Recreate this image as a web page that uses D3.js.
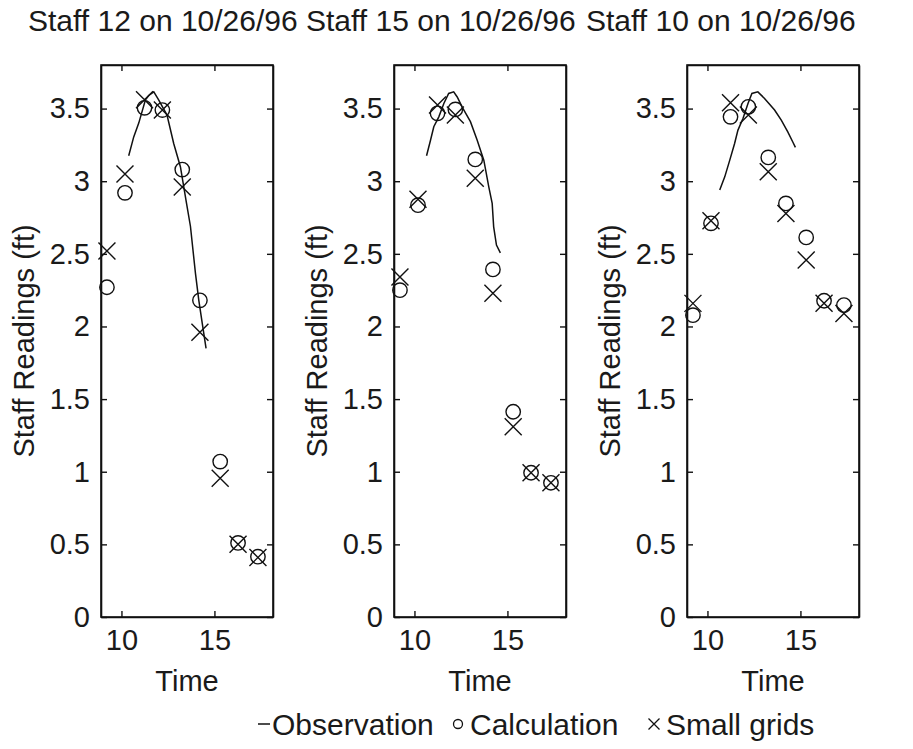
<!DOCTYPE html>
<html>
<head>
<meta charset="utf-8">
<script src="https://cdn.jsdelivr.net/npm/d3@7"></script>
<style>
  html, body { margin: 0; padding: 0; background: #fff; }
  text { font-family: "Liberation Sans", Arial, Helvetica, sans-serif; fill: #1a1a1a; }
</style>
</head>
<body>
<svg id="chart" width="913" height="749"></svg>
<script>
// ---------------- DATA ----------------
const panelTitles = ["Staff 12 on 10/26/96", "Staff 15 on 10/26/96", "Staff 10 on 10/26/96"];
const xTicks = [10, 15];
const yTicks = [0, 0.5, 1, 1.5, 2, 2.5, 3, 3.5];
const yTickLabels = ["0", "0.5", "1", "1.5", "2", "2.5", "3", "3.5"];
const xLabel = "Time";
const yLabel = "Staff Readings (ft)";
const legendLabels = ["Observation", "Calculation", "Small grids"];

// sample times (hours) shared by calculation and small-grid series
const sampleTimes = [9.22, 10.19, 11.24, 12.2, 13.27, 14.22, 15.31, 16.27, 17.34];

// Staff 12
const calc12 = [2.27, 2.92, 3.505, 3.49, 3.08, 2.18, 1.07, 0.51, 0.415];
const grid12 = [2.52, 3.05, 3.56, 3.49, 2.96, 1.96, 0.955, 0.50, 0.41];
const obsTime12 = [10.39, 10.66, 10.93, 11.29, 11.47, 11.74, 12.0, 12.45, 12.81, 13.17, 13.47, 13.71, 13.98, 14.16, 14.37, 14.55];
const obs12 = [3.175, 3.305, 3.40, 3.56, 3.59, 3.615, 3.56, 3.455, 3.26, 3.10, 2.87, 2.69, 2.365, 2.18, 2.0, 1.85];

// Staff 15
const calc15 = [2.25, 2.835, 3.467, 3.494, 3.15, 2.393, 1.413, 0.993, 0.924];
const grid15 = [2.34, 2.875, 3.524, 3.455, 3.02, 2.228, 1.31, 0.993, 0.924];
const obsTime15 = [10.65, 10.86, 11.04, 11.31, 11.58, 11.84, 12.11, 12.3, 12.56, 13.01, 13.37, 13.73, 14.0, 14.18, 14.26, 14.41, 14.62];
const obs15 = [3.175, 3.28, 3.375, 3.443, 3.535, 3.604, 3.615, 3.58, 3.512, 3.41, 3.283, 3.145, 2.96, 2.847, 2.686, 2.56, 2.507];

// Staff 10
const calc10 = [2.078, 2.71, 3.443, 3.512, 3.164, 2.847, 2.613, 2.177, 2.147];
const grid10 = [2.159, 2.727, 3.54, 3.455, 3.065, 2.778, 2.457, 2.16, 2.09];
const obsTime10 = [10.66, 10.93, 11.2, 11.46, 11.64, 11.91, 12.18, 12.39, 12.71, 13.07, 13.61, 13.97, 14.32, 14.59, 14.73];
const obs10 = [2.94, 3.03, 3.145, 3.26, 3.352, 3.432, 3.535, 3.604, 3.615, 3.57, 3.49, 3.42, 3.34, 3.27, 3.233];

const xDomain = [8.9, 18.15];
const yDomain = [0, 3.8];

// ---------------- LAYOUT ----------------
const svg = d3.select("#chart");
const FONT = 29;
const TITLE_FONT = 30;
const panelLeft = [101, 394, 687];
const panelWidth = 172;
const plotTop = 65, plotBottom = 617;
const titleX = [28, 306, 586];

const panels = [
  {calc: calc12, grid: grid12, obsT: obsTime12, obs: obs12},
  {calc: calc15, grid: grid15, obsT: obsTime15, obs: obs15},
  {calc: calc10, grid: grid10, obsT: obsTime10, obs: obs10}
];

const ink = "#111";

panels.forEach((p, i) => {
  const x = d3.scaleLinear().domain(xDomain).range([panelLeft[i], panelLeft[i] + panelWidth]);
  const y = d3.scaleLinear().domain(yDomain).range([plotBottom, plotTop]);
  const g = svg.append("g");

  const axB = d3.axisBottom(x).tickValues(xTicks).tickSizeInner(-6).tickSizeOuter(0).tickPadding(12).tickFormat(d3.format("d"));
  const axT = d3.axisTop(x).tickValues(xTicks).tickSizeInner(-6).tickSizeOuter(0).tickFormat("");
  const axL = d3.axisLeft(y).tickValues(yTicks).tickSizeInner(-6).tickSizeOuter(0).tickPadding(11).tickFormat((d, k) => yTickLabels[k]);
  const axR = d3.axisRight(y).tickValues(yTicks).tickSizeInner(-6).tickSizeOuter(0).tickFormat("");

  const gB = g.append("g").attr("transform", `translate(0,${plotBottom})`).call(axB);
  const gT = g.append("g").attr("transform", `translate(0,${plotTop})`).call(axT);
  const gL = g.append("g").attr("transform", `translate(${panelLeft[i]},0)`).call(axL);
  const gR = g.append("g").attr("transform", `translate(${panelLeft[i] + panelWidth},0)`).call(axR);
  [gB, gT, gL, gR].forEach(a => {
    a.selectAll(".domain").attr("stroke", ink).attr("stroke-width", 1.6);
    a.selectAll(".tick line").attr("stroke", ink).attr("stroke-width", 1.4);
    a.selectAll("text").attr("font-size", FONT).attr("fill", "#1a1a1a")
      .attr("font-family", '"Liberation Sans", Arial, sans-serif');
  });

  g.append("rect")
    .attr("x", panelLeft[i]).attr("y", plotTop)
    .attr("width", panelWidth).attr("height", plotBottom - plotTop)
    .attr("fill", "none").attr("stroke", ink).attr("stroke-width", 1.6);

  const line = d3.line().x(d => x(d[0])).y(d => y(d[1]));
  g.append("path")
    .datum(p.obsT.map((t, k) => [t, p.obs[k]]))
    .attr("d", line)
    .attr("fill", "none").attr("stroke", ink).attr("stroke-width", 1.5);

  g.selectAll("circle.calc").data(sampleTimes.map((t, k) => [t, p.calc[k]]))
    .join("circle").attr("class", "calc")
    .attr("cx", d => x(d[0])).attr("cy", d => y(d[1])).attr("r", 7.2)
    .attr("fill", "none").attr("stroke", ink).attr("stroke-width", 1.4);

  const s = 8.5;
  g.selectAll("path.grid").data(sampleTimes.map((t, k) => [t, p.grid[k]]))
    .join("path").attr("class", "grid")
    .attr("d", d => {
      const cx = x(d[0]), cy = y(d[1]);
      return `M${cx - s},${cy - s}L${cx + s},${cy + s}M${cx - s},${cy + s}L${cx + s},${cy - s}`;
    })
    .attr("fill", "none").attr("stroke", ink).attr("stroke-width", 1.4);

  svg.append("text").attr("x", titleX[i]).attr("y", 31)
    .attr("font-size", TITLE_FONT).text(panelTitles[i]);
  svg.append("text").attr("x", panelLeft[i] + panelWidth / 2).attr("y", 691)
    .attr("text-anchor", "middle").attr("font-size", FONT).text(xLabel);
  svg.append("text")
    .attr("transform", `translate(${panelLeft[i] - 67},${(plotTop + plotBottom) / 2}) rotate(-90)`)
    .attr("text-anchor", "middle").attr("font-size", FONT).text(yLabel);
});

// ---------------- LEGEND ----------------
const ly = 724;
svg.append("line").attr("x1", 258).attr("x2", 270).attr("y1", ly).attr("y2", ly)
  .attr("stroke", ink).attr("stroke-width", 1.5);
svg.append("text").attr("x", 272).attr("y", 735).attr("font-size", TITLE_FONT).text(legendLabels[0]);
svg.append("circle").attr("cx", 458).attr("cy", ly).attr("r", 4.5)
  .attr("fill", "none").attr("stroke", ink).attr("stroke-width", 1.3);
svg.append("text").attr("x", 470).attr("y", 735).attr("font-size", TITLE_FONT).text(legendLabels[1]);
const ls = 5.5, lx = 654;
svg.append("path")
  .attr("d", `M${lx - ls},${ly - ls}L${lx + ls},${ly + ls}M${lx - ls},${ly + ls}L${lx + ls},${ly - ls}`)
  .attr("stroke", ink).attr("stroke-width", 1.3).attr("fill", "none");
svg.append("text").attr("x", 666).attr("y", 735).attr("font-size", TITLE_FONT).text(legendLabels[2]);
</script>
</body>
</html>
